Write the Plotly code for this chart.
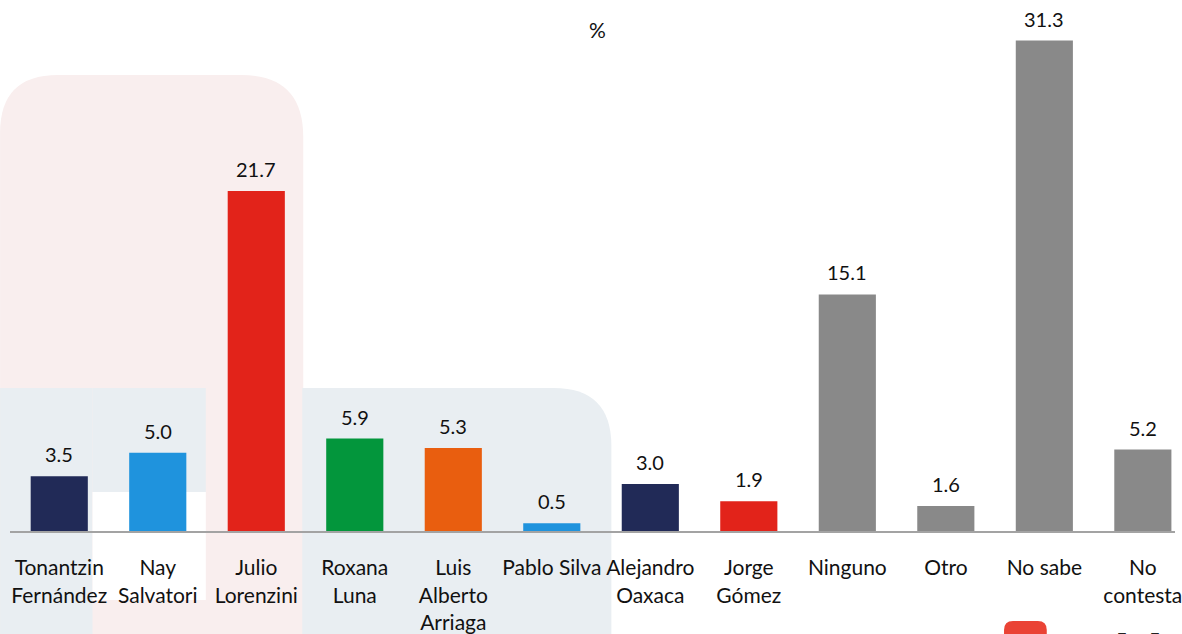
import plotly.graph_objects as go

# ---- data ----
categories = [
    "Tonantzin<br>Fernández", "Nay<br>Salvatori", "Julio<br>Lorenzini",
    "Roxana<br>Luna", "Luis<br>Alberto<br>Arriaga", "Pablo Silva",
    "Alejandro<br>Oaxaca", "Jorge<br>Gómez", "Ninguno", "Otro",
    "No sabe", "No<br>contesta",
]
values = [3.5, 5.0, 21.7, 5.9, 5.3, 0.5, 3.0, 1.9, 15.1, 1.6, 31.3, 5.2]
bar_colors = [
    "#212a57", "#1f93dd", "#e2231a", "#03963c", "#e95e0f", "#1f93dd",
    "#212a57", "#e2231a", "#898989", "#898989", "#898989", "#898989",
]

# ---- canvas geometry ----
W, H = 1182, 634
ML, MR, MT, MB = 10, 0, 10, 103
PW, PH = W - ML - MR, H - MT - MB
FONT = "Lato"


def px(x, y):
    """Pixel position on the canvas -> paper coordinates."""
    return (x - ML) / PW, 1 - (y - MT) / PH


def path(points_cmds):
    out = []
    for cmd, *pts in points_cmds:
        coords = []
        for (x, y) in pts:
            a, b = px(x, y)
            coords.append(f"{a:.5f},{b:.5f}")
        out.append(cmd + " ".join(coords))
    return " ".join(out) + " Z"


def rect(x0, y0, x1, y1, color):
    a0, b0 = px(x0, y1)
    a1, b1 = px(x1, y0)
    return dict(type="rect", xref="paper", yref="paper", x0=a0, y0=b0,
                x1=a1, y1=b1, fillcolor=color, line=dict(width=0), layer="below")


def round_top(x0, y0, x1, y1, rl, rr, color):
    """Rectangle with rounded top-left (rl) and top-right (rr) corners."""
    cmds = [("M", (x0, y1))]
    if rl:
        cmds += [("L", (x0, y0 + rl)), ("Q", (x0, y0), (x0 + rl, y0))]
    else:
        cmds += [("L", (x0, y0))]
    if rr:
        cmds += [("L", (x1 - rr, y0)), ("Q", (x1, y0), (x1, y0 + rr))]
    else:
        cmds += [("L", (x1, y0))]
    cmds += [("L", (x1, y1))]
    return dict(type="path", xref="paper", yref="paper", path=path(cmds),
                fillcolor=color, line=dict(width=0), layer="below")


PINK = "#f9eeee"
BLUEGRAY = "#e9eef2"

shapes = [
    round_top(0, 75, 305, 640, 58, 62, PINK),
    rect(0, 388, 93, 640, BLUEGRAY),
    rect(93, 388, 207, 492, BLUEGRAY),
    rect(93, 492, 207, 600, "#ffffff"),
    round_top(304, 388, 615, 640, 0, 58, BLUEGRAY),
    round_top(1010, 621, 1053, 660, 9, 9, "#ea4335"),
]

fig = go.Figure()
fig.add_trace(go.Bar(
    x=categories, y=values, marker=dict(color=bar_colors, line=dict(width=0)),
    hoverinfo="skip",
))

annotations = [
    dict(x=c, y=v, xref="x", yref="y", text=f"{v:.1f}", showarrow=False,
         yanchor="bottom", yshift=8, font=dict(family=FONT, size=20, color="#111111"))
    for c, v in zip(categories, values)
]
pa, pb = px(601, 30)
annotations.append(dict(x=pa, y=pb, xref="paper", yref="paper", text="%",
                        showarrow=False, xanchor="center", yanchor="middle",
                        font=dict(family=FONT, size=21, color="#111111")))
# footer figures at the lower edge of the canvas
for xx in (1128, 1161):
    a, b = px(xx, 624)
    annotations.append(dict(x=a, y=b, xref="paper", yref="paper", text="5",
                            showarrow=False, xanchor="center", yanchor="top",
                            font=dict(family=FONT, size=22, color="#222222")))

fig.update_layout(
    width=W, height=H,
    margin=dict(l=ML, r=MR, t=MT, b=MB, pad=0),
    paper_bgcolor="white", plot_bgcolor="rgba(0,0,0,0)",
    bargap=0.42, showlegend=False,
    shapes=shapes, annotations=annotations,
    xaxis=dict(
        type="category", range=[-0.5, -0.5 + PW / 99.1],
        showline=True, linecolor="#a3a3a3", linewidth=2,
        showgrid=False, zeroline=False, ticks="",
        tickfont=dict(family=FONT, size=21, color="#111111"),
        ticklabelstandoff=17,
    ),
    yaxis=dict(range=[0, PH / 15.67], visible=False, showgrid=False, zeroline=False),
)

fig.write_html("out.html")
